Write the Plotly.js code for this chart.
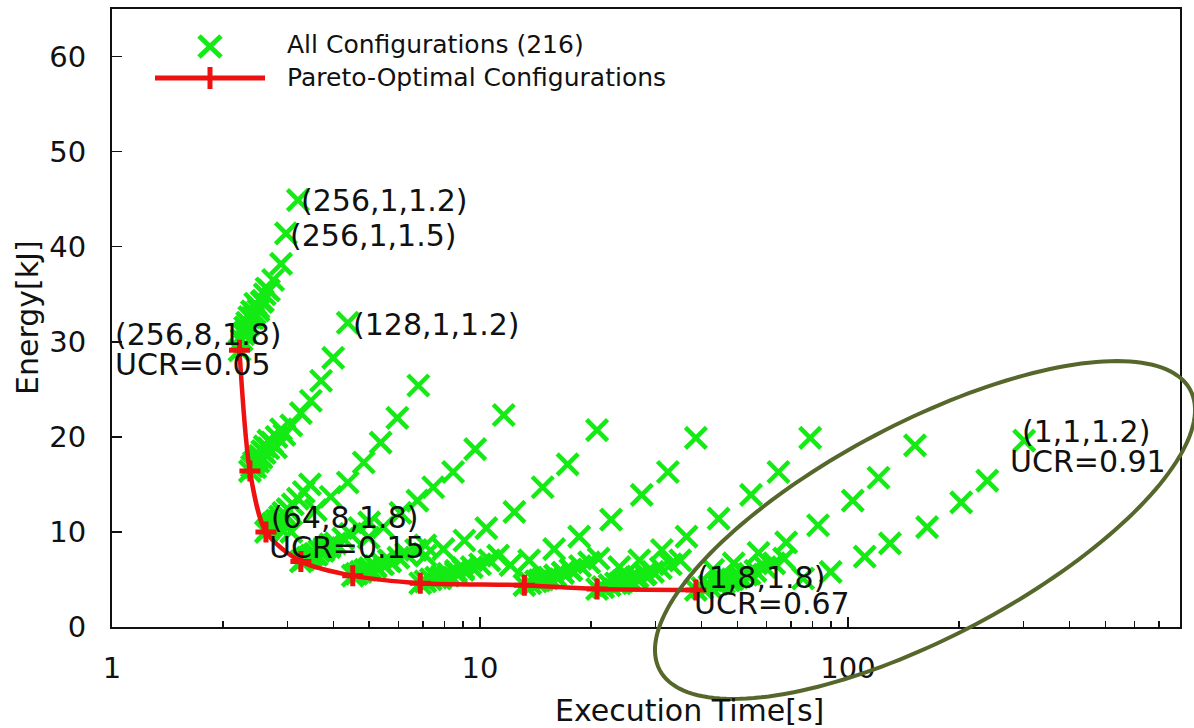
<!DOCTYPE html>
<html><head><meta charset="utf-8">
<script src="https://cdn.plot.ly/plotly-3.0.1.min.js"></script>
<style>html,body{margin:0;padding:0;background:#fff}#chart{width:1194px;height:728px}</style>
</head><body><div id="chart"></div>
<script>
// ---- data: execution time [s] and energy [kJ], three thread chains per node count ----
const n256Time   = [2.42,2.50,2.57,2.67,2.74,2.88,2.97,3.20, 2.30,2.35,2.40,2.44,2.50,2.55,2.60,2.63, 2.22,2.25,2.28,2.30,2.33,2.36,2.40,2.45];
const n256Energy = [32.5,33.3,34.3,35.4,36.5,38.2,41.4,44.9, 31.0,31.8,32.5,33.0,33.6,34.2,35.0,35.6, 29.1,30.2,30.8,31.5,32.0,32.6,33.2,34.0];
const n128Time   = [2.79,2.94,3.07,3.26,3.47,3.70,3.99,4.37, 2.45,2.50,2.55,2.60,2.66,2.72,2.80,2.88, 2.37,2.40,2.43,2.47,2.52,2.56,2.60,2.66];
const n128Energy = [18.9,20.2,21.2,22.5,23.8,25.9,28.3,32.0, 16.8,17.4,17.8,18.3,18.8,19.4,20.0,20.8, 16.4,16.9,17.3,17.7,18.0,18.5,19.0,19.6];
const n64Time    = [3.07,3.58,3.93,4.37,4.83,5.37,5.96,6.80, 2.80,2.88,2.95,3.02,3.10,3.20,3.32,3.45, 2.62,2.66,2.70,2.74,2.80,2.86,2.92,3.00];
const n64Energy  = [10.0,12.3,13.7,15.2,17.3,19.4,22.0,25.4, 10.8,11.3,11.8,12.3,12.9,13.5,14.2,15.0, 10.0,10.3,10.6,10.9,11.2,11.6,12.0,12.4];
const n32Time    = [4.98,5.46,6.08,6.76,7.46,8.45,9.70,11.6, 3.60,3.75,3.90,4.05,4.25,4.45,4.70,5.00, 3.26,3.32,3.40,3.48,3.56,3.66,3.78,3.92];
const n32Energy  = [9.4,10.5,12.0,13.3,14.7,16.3,18.7,22.3, 7.6,8.0,8.4,8.8,9.3,9.8,10.4,11.0, 6.9,7.1,7.3,7.5,7.7,8.0,8.3,8.7];
const n16Time    = [7.11,7.95,9.07,10.4,12.4,14.8,17.3,20.8, 5.0,5.2,5.45,5.7,6.0,6.3,6.7,7.1, 4.51,4.62,4.75,4.88,5.02,5.2,5.4,5.65];
const n16Energy  = [7.5,8.2,9.1,10.4,12.1,14.7,17.1,20.7, 6.0,6.3,6.6,6.9,7.3,7.7,8.1,8.6, 5.4,5.6,5.8,6.0,6.2,6.4,6.7,7.0];
const n8Time     = [12.1,13.6,15.9,18.6,22.7,27.5,32.4,38.6, 7.8,8.2,8.6,9.0,9.5,10.0,10.6,11.2, 6.88,7.1,7.35,7.6,7.9,8.2,8.6,9.0];
const n8Energy   = [6.5,7.0,8.2,9.5,11.3,13.9,16.3,19.9, 5.1,5.4,5.7,6.0,6.3,6.6,7.0,7.5, 4.6,4.8,5.0,5.2,5.4,5.6,5.9,6.2];
const n4Time     = [23.9,27.1,31.2,36.4,44.5,54.5,64.7,78.9, 14.5,15.2,16.0,16.8,17.7,18.7,19.8,21.0, 13.2,13.7,14.2,14.8,15.4,16.0,16.8,17.6];
const n4Energy   = [6.3,7.0,8.1,9.5,11.4,13.9,16.3,19.9, 4.9,5.1,5.4,5.7,6.0,6.4,6.8,7.2, 4.4,4.6,4.8,5.0,5.2,5.4,5.7,6.0];
const n2Time     = [43.0,48.9,57.1,67.9,82.9,103,121,152, 24,25.2,26.5,28,29.5,31,33,35, 20.8,21.6,22.5,23.4,24.4,25.5,26.8,28.2];
const n2Energy   = [6.0,6.7,7.8,8.9,10.7,13.3,15.7,19.1, 4.6,4.9,5.2,5.5,5.8,6.2,6.6,7.0, 4.0,4.2,4.4,4.6,4.8,5.0,5.3,5.6];
const n1Time     = [75.5,89.7,111,130,164,203,239,301, 45,47.5,50,53,56,59.5,63,67, 38.6,40.2,42,44,46,48.5,51,54];
const n1Energy   = [5.1,5.8,7.4,8.8,10.5,13.1,15.4,19.6, 4.6,4.9,5.2,5.5,5.9,6.3,6.7,7.2, 3.9,4.1,4.3,4.5,4.7,5.0,5.3,5.6];

const paretoTime   = [2.22,2.37,2.62,3.26,4.51,6.88,13.2,20.8,38.6];
const paretoEnergy = [29.1,16.4,10.0,6.9,5.4,4.6,4.4,4.0,3.9];

const xTickVals = [1,10,100];
const yTickVals = [0,10,20,30,40,50,60];
const seriesNames = ["All Configurations (216)", "Pareto-Optimal Configurations"];
const pointLabels = ["(256,1,1.2)","(256,1,1.5)","(128,1,1.2)","(256,8,1.8)","UCR=0.05","(64,8,1.8)","UCR=0.15","(1,8,1.8)","UCR=0.67","(1,1,1.2)","UCR=0.91"];
const axisTitles = ["Execution Time[s]", "Energy[kJ]"];

// ---- layout helpers (pixel -> paper) ----
const L=112, R=1180, T=9, B=627;
const px = x => (x-L)/(R-L);
const py = y => (B-y)/(B-T);

const allTime = [].concat(n256Time,n128Time,n64Time,n32Time,n16Time,n8Time,n4Time,n2Time,n1Time);
const allEnergy = [].concat(n256Energy,n128Energy,n64Energy,n32Energy,n16Energy,n8Energy,n4Energy,n2Energy,n1Energy);

const GREEN = '#14ea14', RED = '#ee1111', OLIVE = '#56672b';
const FONT = 'DejaVu Sans, Arial, sans-serif';

const traces = [
  {type:'scatter', mode:'markers', name:seriesNames[0], x:allTime, y:allEnergy, showlegend:false,
   marker:{symbol:'x-thin', size:21, line:{width:4.5, color:GREEN}, color:GREEN}, hoverinfo:'x+y'},
  {type:'scatter', mode:'lines+markers', name:seriesNames[1], x:paretoTime, y:paretoEnergy, showlegend:false,
   line:{color:RED, width:4.5, shape:'spline', smoothing:0.8},
   marker:{symbol:'cross-thin', size:15, line:{width:5, color:RED}, color:RED}}
];

// label positions (pixel coordinates of text left edge / vertical centre)
const labelPos = [[299,201],[288,235],[351,324],[113,334],[113,364],[269,517],[267,547],[695,577],[692,603],[1020,432],[1008,461]];
const annotations = pointLabels.map((t,i)=>({
  text:t, xref:'paper', yref:'paper', x:px(labelPos[i][0]), y:py(labelPos[i][1]),
  xanchor:'left', yanchor:'middle', showarrow:false, font:{family:FONT, size:30, color:'#111'}
}));
// legend texts
annotations.push({text:seriesNames[0], xref:'paper', yref:'paper', x:px(285), y:py(45), xanchor:'left', yanchor:'middle', showarrow:false, font:{family:FONT,size:25,color:'#111'}});
annotations.push({text:seriesNames[1], xref:'paper', yref:'paper', x:px(285), y:py(78), xanchor:'left', yanchor:'middle', showarrow:false, font:{family:FONT,size:25,color:'#111'}});
// axis titles
annotations.push({text:axisTitles[0], xref:'paper', yref:'paper', x:px(689), y:py(710), xanchor:'center', yanchor:'middle', showarrow:false, font:{family:FONT,size:30,color:'#111'}});
annotations.push({text:axisTitles[1], xref:'paper', yref:'paper', x:px(27), y:py(318), xanchor:'center', yanchor:'middle', textangle:-90, showarrow:false, font:{family:FONT,size:30,color:'#111'}});

// shapes: legend samples and the highlight ellipse
const shapes = [];
function seg(x0,y0,x1,y1,color,w){shapes.push({type:'line', xref:'paper', yref:'paper', x0:px(x0), y0:py(y0), x1:px(x1), y1:py(y1), line:{color:color, width:w}});}
seg(199,36,221,57,GREEN,5); seg(199,57,221,36,GREEN,5);
seg(155,78,265,78,RED,5); seg(210,67,210,89,RED,5);
// rotated ellipse
(function(){
  const cx=925, cy=530, a=300, b=107, phi=27.8*Math.PI/180;
  let d='';
  for(let k=0;k<=180;k++){
    const th=2*Math.PI*k/180;
    const X = cx + a*Math.cos(th)*Math.cos(phi) - b*Math.sin(th)*Math.sin(phi);
    const Y = cy - (a*Math.cos(th)*Math.sin(phi) + b*Math.sin(th)*Math.cos(phi));
    d += (k===0?'M':'L') + px(X).toFixed(5) + ',' + py(Y).toFixed(5);
  }
  d += 'Z';
  shapes.push({type:'path', xref:'paper', yref:'paper', path:d, line:{color:OLIVE, width:4}, layer:'above'});
})();

const layout = {
  width:1194, height:728,
  margin:{l:L, r:1194-R, t:T, b:728-B, pad:0},
  paper_bgcolor:'#fff', plot_bgcolor:'#fff',
  font:{family:FONT, color:'#111'},
  showlegend:false,
  xaxis:{type:'log', range:[0, 2.902], tickvals:xTickVals, ticktext:xTickVals.map(String),
    ticks:'inside', ticklen:10, tickwidth:1.5, tickcolor:'#111',
    minor:{ticks:'inside', ticklen:6, tickwidth:1.5, tickcolor:'#111', dtick:'D1', showgrid:false},
    showgrid:false, zeroline:false, showline:true, mirror:true, linecolor:'#111', linewidth:2,
    tickfont:{family:FONT, size:29, color:'#111'}, ticklabelstandoff:14, automargin:false},
  yaxis:{range:[0,65], tickvals:yTickVals, ticks:'inside', ticklen:10, tickwidth:1.5, tickcolor:'#111',
    showgrid:false, zeroline:false, showline:true, mirror:true, linecolor:'#111', linewidth:2,
    tickfont:{family:FONT, size:29, color:'#111'}, ticklabelstandoff:18, automargin:false},
  annotations:annotations,
  shapes:shapes
};

Plotly.newPlot('chart', traces, layout, {displayModeBar:false, staticPlot:true});
</script>
</body></html>
